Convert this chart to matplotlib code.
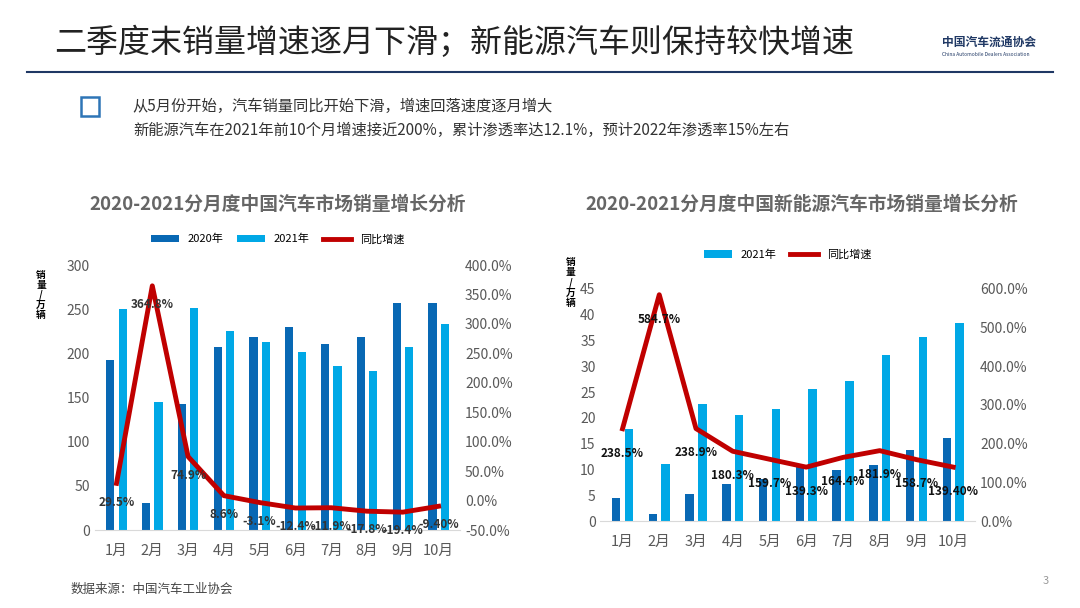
import matplotlib.pyplot as plt
import numpy as np
from matplotlib.ticker import FuncFormatter

plt.rcParams['font.family'] = ['Noto Sans CJK SC', 'DejaVu Sans']

months = ["1月", "2月", "3月", "4月", "5月", "6月", "7月", "8月", "9月", "10月"]

# 汽车总体销量（万辆）
car_2020 = [193, 31, 143, 207, 219, 230, 211, 219, 257, 257]
car_2021 = [250, 145, 252, 225, 213, 202, 186, 180, 207, 233]
car_growth = [29.5, 364.8, 74.9, 8.6, -3.1, -12.4, -11.9, -17.8, -19.4, -9.4]
car_labels = ["29.5%", "364.8%", "74.9%", "8.6%", "-3.1%", "-12.4%", "-11.9%", "-17.8%", "-19.4%", "-9.40%"]

# 新能源汽车销量（万辆）
nev_2020 = [4.4, 1.3, 5.3, 7.2, 8.2, 10.4, 9.8, 10.9, 13.8, 16.0]
nev_2021 = [17.9, 11.0, 22.6, 20.6, 21.7, 25.6, 27.1, 32.1, 35.7, 38.3]
nev_growth = [238.5, 584.7, 238.9, 180.3, 159.7, 139.3, 164.4, 181.9, 158.7, 139.4]
nev_labels = ["238.5%", "584.7%", "238.9%", "180.3%", "159.7%", "139.3%", "164.4%", "181.9%", "158.7%", "139.40%"]

DARK = "#0868b4"
LIGHT = "#00a8e6"
RED = "#c00000"
GREY = "#595959"

fig = plt.figure(figsize=(10.8, 6.08), dpi=100)
fig.patch.set_facecolor("white")

# Kopfzeile
fig.text(0.05, 0.915, "二季度末销量增速逐月下滑；新能源汽车则保持较快增速", fontsize=23, color="#222222")
fig.add_artist(plt.Line2D([0.025, 0.975], [0.882, 0.882], color="#1f3864", lw=1.5))
fig.text(0.872, 0.925, "中国汽车流通协会", fontsize=8.5, color="#1f3864", weight="bold")
fig.text(0.872, 0.908, "China Automobile Dealers Association", fontsize=3.5, color="#1f3864")
fig.add_artist(plt.Rectangle((0.075, 0.81), 0.017, 0.03, fill=False, ec="#2e75b6", lw=1.8))
fig.text(0.123, 0.825, "从5月份开始，汽车销量同比开始下滑，增速回落速度逐月增大", fontsize=11, color="#333333", va="center")
fig.text(0.123, 0.785, "新能源汽车在2021年前10个月增速接近200%，累计渗透率达12.1%，预计2022年渗透率15%左右", fontsize=11, color="#333333", va="center")
fig.text(0.065, 0.025, "数据来源：中国汽车工业协会", fontsize=9, color="#444444")
fig.text(0.965, 0.04, "3", fontsize=8, color="#999999")

x = np.arange(len(months))
w = 0.23


def style(ax, ax2):
    for a in (ax, ax2):
        for s in a.spines.values():
            s.set_visible(False)
        a.tick_params(length=0, labelsize=10, colors=GREY)
    ax.spines["bottom"].set_visible(True)
    ax.spines["bottom"].set_color("#d9d9d9")
    ax.set_xticks(x)
    ax.set_xticklabels(months, fontsize=10.5, color=GREY)
    ax.tick_params(axis="x", pad=10)
    ax.set_xlim(-0.6, len(months) - 0.4)
    ax2.yaxis.set_major_formatter(FuncFormatter(lambda v, p: f"{v:.1f}%"))


# Linkes Diagramm
ax = fig.add_axes([0.088, 0.128, 0.338, 0.436])
ax2 = ax.twinx()
b1 = ax.bar(x - w * 0.75, car_2020, w, color=DARK, label="2020年")
b2 = ax.bar(x + w * 0.75, car_2021, w, color=LIGHT, label="2021年")
l1, = ax2.plot(x, car_growth, color=RED, lw=3.5, label="同比增速")
ax.set_ylim(0, 300)
ax.set_yticks(range(0, 301, 50))
ax2.set_ylim(-50, 400)
ax2.set_yticks(range(-50, 401, 50))
style(ax, ax2)
for xi, yi, t in zip(x, car_growth, car_labels):
    ax2.annotate(t, (xi, yi), xytext=(0, -16), textcoords="offset points", ha="center",
                 fontsize=8.5, weight="bold", color="#333333")
fig.text(0.257, 0.655, "2020-2021分月度中国汽车市场销量增长分析", fontsize=13.5, weight="bold",
         color="#666666", ha="center")
ax.legend(handles=[b1, b2, l1], loc="lower center", bbox_to_anchor=(0.5, 1.04), ncol=3,
          frameon=False, fontsize=8, handlelength=2.5, columnspacing=1.2)
fig.text(0.038, 0.515, "销\n量\n/\n万\n辆", fontsize=7, weight="bold", linespacing=1.0,
         ha="center", va="center")

# Rechtes Diagramm
bx = fig.add_axes([0.556, 0.143, 0.347, 0.382])
bx2 = bx.twinx()
bx.bar(x - w * 0.75, nev_2020, w, color=DARK)
c2 = bx.bar(x + w * 0.75, nev_2021, w, color=LIGHT, label="2021年")
l2, = bx2.plot(x, nev_growth, color=RED, lw=3.5, label="同比增速")
bx.set_ylim(0, 45)
bx.set_yticks(range(0, 46, 5))
bx2.set_ylim(0, 600)
bx2.set_yticks(range(0, 601, 100))
style(bx, bx2)
for xi, yi, t in zip(x, nev_growth, nev_labels):
    bx2.annotate(t, (xi, yi), xytext=(0, -20), textcoords="offset points", ha="center",
                 fontsize=8.5, weight="bold", color="#111111")
fig.text(0.742, 0.655, "2020-2021分月度中国新能源汽车市场销量增长分析", fontsize=13.5, weight="bold",
         color="#666666", ha="center")
bx.legend(handles=[c2, l2], loc="lower center", bbox_to_anchor=(0.5, 1.08), ncol=2,
          frameon=False, fontsize=8, handlelength=2.5, columnspacing=1.2)
fig.text(0.528, 0.535, "销\n量\n/\n万\n辆", fontsize=7, weight="bold", linespacing=1.0,
         ha="center", va="center")

fig.savefig("out.png", dpi=100)
